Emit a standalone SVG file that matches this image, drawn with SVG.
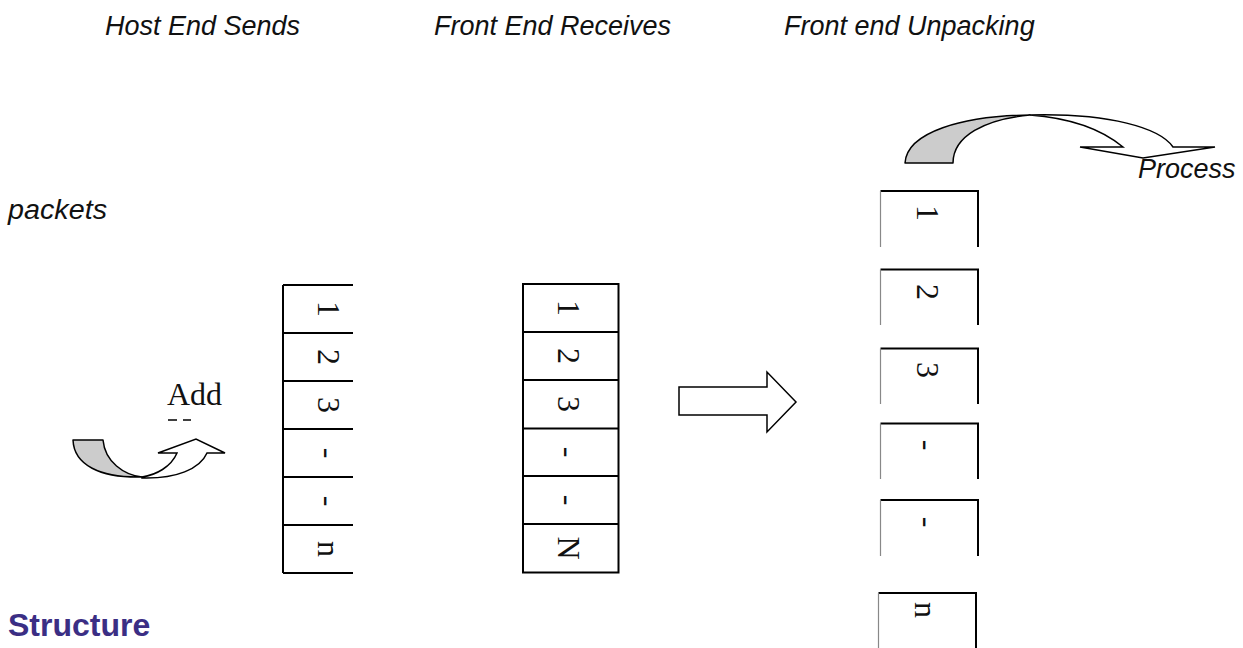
<svg xmlns="http://www.w3.org/2000/svg" width="1243" height="648" viewBox="0 0 1243 648">
<style>
.title{font-family:"Liberation Sans",Arial,sans-serif;font-style:italic;font-size:27px;fill:#111}
.cell{font-family:"Liberation Serif","Times New Roman",serif;font-size:32px;fill:#111;text-anchor:middle}
.add{font-family:"Liberation Serif","Times New Roman",serif;font-size:32px;fill:#111}
.head{font-family:"Liberation Sans",Arial,sans-serif;font-weight:bold;font-size:32px;fill:#3b2e84}
.ln{stroke:#000;stroke-width:2;fill:none}
.gl{stroke:#888;stroke-width:1.2;fill:none}
.gray{fill:#cccccc;stroke:#000;stroke-width:1.5;stroke-linejoin:round}
.white{fill:#ffffff;stroke:#000;stroke-width:1.5;stroke-linejoin:miter}
</style>
<rect width="1243" height="648" fill="#fff"/>

<g id="titles">
<text class="title" x="105" y="35">Host End Sends</text>
<text class="title" x="434" y="35">Front End Receives</text>
<text class="title" x="784" y="35">Front end Unpacking</text>
<text class="title" x="8" y="219" textLength="99" lengthAdjust="spacingAndGlyphs">packets</text>
<text class="head" x="8" y="636">Structure</text>
</g>

<g id="host-block">
<path class="ln" d="M283,285 V573 M283,285 H353 M283,333 H353 M283,381 H353 M283,429 H353 M283,477 H353 M283,525 H353 M283,573 H353"/>
<text class="cell" transform="translate(318,309) rotate(90)">1</text>
<text class="cell" transform="translate(318,357) rotate(90)">2</text>
<text class="cell" transform="translate(318,405) rotate(90)">3</text>
<text class="cell" transform="translate(318,453) rotate(90)">-</text>
<text class="cell" transform="translate(318,501) rotate(90)">-</text>
<text class="cell" transform="translate(318,549) rotate(90)">n</text>
</g>

<g id="add-header">
<text class="add" x="167" y="405">Add</text>
<path d="M168,420 H177 M183,420 H191" stroke="#000" stroke-width="1.5"/>
</g>

<g id="front-receive-block">
<rect class="ln" x="523" y="284" width="95.5" height="288.5"/>
<path class="ln" d="M523,332 H618.5 M523,380 H618.5 M523,428.5 H618.5 M523,476 H618.5 M523,524 H618.5"/>
<text class="cell" transform="translate(558,308) rotate(90)">1</text>
<text class="cell" transform="translate(558,356) rotate(90)">2</text>
<text class="cell" transform="translate(558,404) rotate(90)">3</text>
<text class="cell" transform="translate(558,452) rotate(90)">-</text>
<text class="cell" transform="translate(558,500) rotate(90)">-</text>
<text class="cell" transform="translate(558,548) rotate(90)">N</text>
</g>

<g id="unpack-1">
<path class="ln" d="M880.5,191 H978 V247"/><path class="gl" d="M880.5,191 V247"/>
<text class="cell" transform="translate(917,213) rotate(90)">1</text>
</g>
<g id="unpack-2">
<path class="ln" d="M880.5,269.5 H978 V325"/><path class="gl" d="M880.5,269.5 V325"/>
<text class="cell" transform="translate(917,292) rotate(90)">2</text>
</g>
<g id="unpack-3">
<path class="ln" d="M880.5,348.5 H978 V404"/><path class="gl" d="M880.5,348.5 V404"/>
<text class="cell" transform="translate(917,370) rotate(90)">3</text>
</g>
<g id="unpack-4">
<path class="ln" d="M880.5,423.5 H978 V479"/><path class="gl" d="M880.5,423.5 V479"/>
<text class="cell" transform="translate(917,445) rotate(90)">-</text>
</g>
<g id="unpack-5">
<path class="ln" d="M880.5,500 H978 V556"/><path class="gl" d="M880.5,500 V556"/>
<text class="cell" transform="translate(917,522) rotate(90)">-</text>
</g>
<g id="unpack-6">
<path class="ln" d="M878.5,593 H976 V650"/><path class="gl" d="M878.5,593 V650"/>
<text class="cell" transform="translate(915,610) rotate(90)">n</text>
</g>

<g id="process-label">
<text class="title" x="1138" y="178">Process</text>
</g>

<g id="connectors">
<polygon class="white" points="679,387 767,387 767,372 796,402 767,432 767,415 679,415"/>
<path class="gray" d="M73,440 L103,440 C105,462 124,475 142,477 C100,478 74,465 73,440 Z"/>
<path class="white" d="M142,478 C176,479 200,469 207,453 L225,453 L196,439 L158,453 L177,453 C171,467 156,475 142,477 Z"/>
<path class="gray" d="M905,163 C907,132 962,116 1030,115 C985,119 953,136 953,163 Z"/>
<path class="white" d="M1030,115 C1110,113 1160,128 1173,147 L1215,147 L1143,158 L1080,147 L1123,147 C1100,128 1070,118 1030,115 Z"/>
</g>
</svg>
